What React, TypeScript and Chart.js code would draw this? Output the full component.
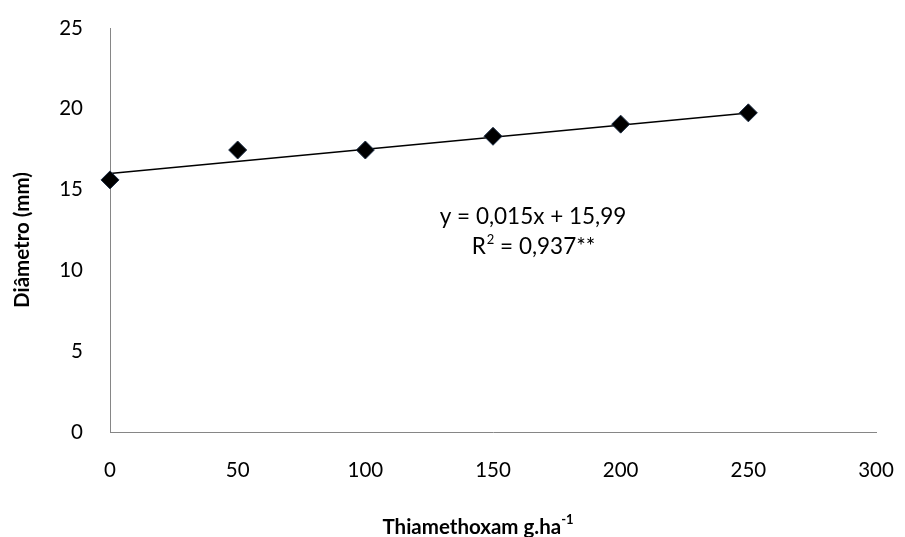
import React, { useEffect, useRef } from "react";
import { Chart, registerables } from "chart.js";

Chart.register(...registerables);

const doses = [0, 50, 100, 150, 200, 250];
const diameter = [15.6, 17.45, 17.45, 18.3, 19.05, 19.75];
const trendX = [0, 250];
const trendY = [15.99, 19.74];
const xTicks = [0, 50, 100, 150, 200, 250, 300];
const yTicks = [0, 5, 10, 15, 20, 25];
const equationLine1 = "y = 0,015x + 15,99";
const equationLine2a = "R";
const equationLine2sup = "2";
const equationLine2b = " = 0,937**";
const yTitle = "Diâmetro (mm)";
const xTitleMain = "Thiamethoxam g.ha";
const xTitleSup = "-1";

const FONT = "Lato, 'Open Sans', sans-serif";

export default function App() {
  const ref = useRef<HTMLCanvasElement | null>(null);

  useEffect(() => {
    document.body.style.margin = "0";
    const canvas = ref.current;
    if (!canvas) return;

    const annotations = {
      id: "annotations",
      afterDraw(chart: any) {
        const ctx = chart.ctx;
        ctx.save();
        ctx.fillStyle = "#000";
        ctx.textBaseline = "middle";
        // equation
        ctx.font = `22.5px ${FONT}`;
        ctx.textAlign = "center";
        ctx.fillText(equationLine1, 533, 217);
        const wA = ctx.measureText(equationLine2a).width;
        const wB = ctx.measureText(equationLine2b).width;
        ctx.font = `13px ${FONT}`;
        const wS = ctx.measureText(equationLine2sup).width;
        const total = wA + wS + wB;
        const x0 = 533 - total / 2;
        ctx.textAlign = "left";
        ctx.font = `22.5px ${FONT}`;
        ctx.fillText(equationLine2a, x0, 247);
        ctx.font = `13px ${FONT}`;
        ctx.fillText(equationLine2sup, x0 + wA + 1, 240);
        ctx.font = `22.5px ${FONT}`;
        ctx.fillText(equationLine2b, x0 + wA + wS + 1, 247);

        // x title
        ctx.font = `bold 20.5px ${FONT}`;
        const wm = ctx.measureText(xTitleMain).width;
        ctx.font = `bold 13px ${FONT}`;
        const ws = ctx.measureText(xTitleSup).width;
        const tx = 478 - (wm + ws) / 2;
        ctx.font = `bold 20.5px ${FONT}`;
        ctx.fillText(xTitleMain, tx, 527);
        ctx.font = `bold 13px ${FONT}`;
        ctx.fillText(xTitleSup, tx + wm, 520);

        // y title
        ctx.translate(22, 240);
        ctx.rotate(-Math.PI / 2);
        ctx.textAlign = "center";
        ctx.font = `bold 20.5px ${FONT}`;
        ctx.fillText(yTitle, 0, 0);
        ctx.restore();
      },
    };

    const chart = new Chart(canvas, {
      type: "scatter",
      data: {
        datasets: [
          {
            type: "line",
            label: "trend",
            data: trendX.map((x, i) => ({ x, y: trendY[i] })),
            borderColor: "#000",
            borderWidth: 1.5,
            pointRadius: 0,
            fill: false,
            clip: false,
            order: 2,
          },
          {
            label: "Diâmetro",
            data: doses.map((x, i) => ({ x, y: diameter[i] })),
            pointStyle: "rectRot",
            pointRadius: 9,
            backgroundColor: "#000",
            borderColor: "#1c2d45",
            borderWidth: 1,
            clip: false,
            order: 1,
          },
        ],
      },
      options: {
        responsive: false,
        animation: false,
        layout: { autoPadding: false, padding: { left: 0, top: 28, right: 29, bottom: 0 } },
        plugins: {
          legend: { display: false },
          tooltip: { enabled: false },
        },
        scales: {
          x: {
            type: "linear",
            min: 0,
            max: 300,
            afterBuildTicks: (s: any) => {
              s.ticks = xTicks.map((v) => ({ value: v }));
            },
            afterFit: (s: any) => {
              s.height = 105;
              s.paddingLeft = 0;
              s.paddingRight = 0;
            },
            grid: { display: false, drawTicks: false },
            border: { display: true, color: "#868686", width: 1 },
            ticks: {
              color: "#000",
              font: { family: FONT, size: 20.5 },
              padding: 26,
              maxRotation: 0,
            },
          },
          y: {
            type: "linear",
            min: 0,
            max: 25,
            afterBuildTicks: (s: any) => {
              s.ticks = yTicks.map((v) => ({ value: v }));
            },
            afterFit: (s: any) => {
              s.width = 110;
              s.paddingTop = 0;
              s.paddingBottom = 0;
            },
            grid: { display: false, drawTicks: false },
            border: { display: true, color: "#868686", width: 1 },
            ticks: {
              color: "#000",
              font: { family: FONT, size: 20.5 },
              padding: 27,
            },
          },
        },
      },
      plugins: [annotations],
    } as any);

    return () => chart.destroy();
  }, []);

  return (
    <div style={{ position: "relative", width: 905, height: 537, background: "#fff" }}>
      <canvas ref={ref} width={905} height={537} style={{ display: "block" }} />
    </div>
  );
}
